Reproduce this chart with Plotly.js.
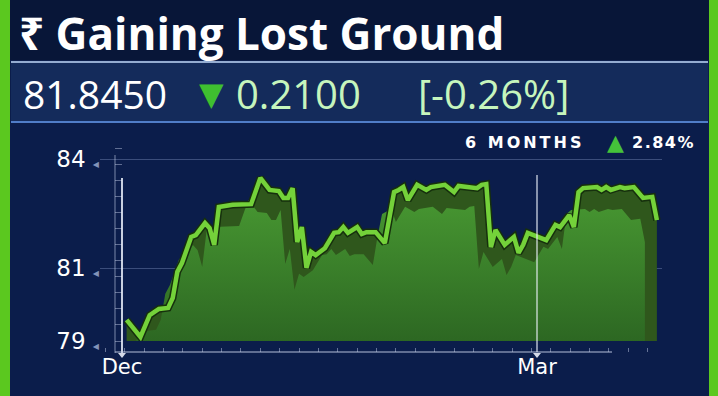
<!DOCTYPE html>
<html>
<head>
<meta charset="utf-8">
<script src="https://cdn.plot.ly/plotly-3.0.1.min.js"></script>
<style>
  html, body { margin: 0; padding: 0; background: #0b1d4b; }
  #chart { width: 718px; height: 396px; }
</style>
</head>
<body>
<div id="chart"></div>
<script>
// ---- data ----
const titleText = '₹ Gaining Lost Ground';
const lastPrice = '81.8450';
const changeAbs = '0.2100';
const changePct = '[-0.26%]';
const periodLabel = '6 MONTHS';
const periodChange = '2.84%';

const dates = [
  '2022-12-02','2022-12-05','2022-12-07','2022-12-09','2022-12-11','2022-12-12','2022-12-13','2022-12-14',
  '2022-12-16','2022-12-17','2022-12-19','2022-12-20','2022-12-21','2022-12-22','2022-12-25','2022-12-29',
  '2022-12-31','2023-01-02','2023-01-04','2023-01-05','2023-01-06','2023-01-07','2023-01-08','2023-01-09',
  '2023-01-10','2023-01-11','2023-01-12','2023-01-14','2023-01-16','2023-01-17','2023-01-18','2023-01-19',
  '2023-01-21','2023-01-22','2023-01-23','2023-01-25','2023-01-27','2023-01-28','2023-01-29','2023-01-30',
  '2023-01-31','2023-02-01','2023-02-03','2023-02-05','2023-02-06','2023-02-09','2023-02-11','2023-02-12',
  '2023-02-14','2023-02-16','2023-02-17','2023-02-18','2023-02-19','2023-02-20','2023-02-22','2023-02-24',
  '2023-02-25','2023-02-26','2023-02-27','2023-03-01','2023-03-03','2023-03-05','2023-03-06','2023-03-08',
  '2023-03-09','2023-03-10','2023-03-11','2023-03-14','2023-03-15','2023-03-16','2023-03-17','2023-03-19',
  '2023-03-20','2023-03-22','2023-03-23','2023-03-24','2023-03-26','2023-03-27'
];
const rate = [
  79.58,79.11,79.71,79.88,79.91,80.18,80.90,81.14,
  81.86,81.91,82.24,82.10,81.64,82.68,82.74,82.76,
  83.48,83.15,83.12,82.93,82.93,83.20,81.72,82.13,
  81.01,81.45,81.36,81.55,81.97,81.99,82.13,81.97,
  82.13,81.94,81.99,81.99,81.69,82.46,83.09,83.15,
  83.23,82.87,83.29,83.15,83.23,83.29,83.09,83.26,
  83.23,83.20,83.29,83.31,81.58,82.05,81.64,81.86,
  81.42,81.64,81.97,81.86,81.77,82.19,82.13,82.46,
  82.13,83.09,83.20,83.23,83.15,83.23,83.15,83.23,
  83.20,83.23,83.07,82.93,82.96,82.32
];
const yTickVals = [79, 81, 84];
const xTickVals = ['2022-12-01', '2023-03-01'];
const xTickText = ['Dec', 'Mar'];

// ---- geometry helpers (pixel -> paper fraction) ----
const L = 100, R = 662, T = 140, B = 360;
const px = x => (x - L) / (R - L);
const py = y => (B - y) / (B - T);

const xRange = ['2022-11-26 05:30', '2023-03-28 02:36'];
const xRangeFront = ['2022-11-28 20:00', '2023-03-30 17:06'];
const yRange = [79, 84.522];
const yRangeFront = [79.604, 85.126];

const FONT = 'Open Sans, Noto Sans, DejaVu Sans, sans-serif';
const WIDE = 'DejaVu Sans, Verdana, sans-serif';

const traces = [
  { // dark extrusion (back)
    x: dates, y: rate, xaxis: 'x', yaxis: 'y', type: 'scatter', mode: 'lines',
    line: { width: 0, color: '#2f5a1d' }, fill: 'tozeroy', fillcolor: '#2f571c', hoverinfo: 'skip'
  },
  { // front face
    x: dates, y: rate, xaxis: 'x2', yaxis: 'y2', type: 'scatter', mode: 'lines',
    line: { width: 0, color: '#45942f' }, fill: 'tozeroy',
    fillgradient: { type: 'vertical', start: 79.5, stop: 84, colorscale: [[0, '#2c6622'], [1, '#4a9c33']] },
    hoverinfo: 'skip'
  },
  { // outline
    x: dates, y: rate, xaxis: 'x3', yaxis: 'y3', type: 'scatter', mode: 'lines',
    line: { width: 7.5, color: '#16300d' }, hoverinfo: 'skip'
  },
  { // bright line
    x: dates, y: rate, xaxis: 'x3', yaxis: 'y3', type: 'scatter', mode: 'lines',
    line: { width: 4.5, color: '#74d23a' }
  }
];

const gridCol = 'rgba(150,170,215,0.35)';

const layout = {
  width: 718, height: 396,
  paper_bgcolor: '#0b1d4b', plot_bgcolor: 'rgba(0,0,0,0)',
  margin: { l: L, r: 718 - R, t: T, b: 396 - B, pad: 0 },
  showlegend: false,
  title: {
    text: titleText, x: 19 / 718, xanchor: 'left', xref: 'container',
    y: 1 - 35 / 396, yanchor: 'middle', yref: 'container',
    font: { family: FONT, size: 44, weight: 700, color: '#ffffff' }
  },
  xaxis: {
    type: 'date', range: xRange, anchor: 'free', position: py(352),
    showgrid: false, zeroline: false, showline: false,
    tickvals: xTickVals, ticktext: xTickText, ticks: '',
    tickfont: { family: WIDE, size: 21, color: '#ffffff' },
    minor: { ticks: 'inside', ticklen: 4, tickwidth: 1, tickcolor: 'rgba(190,200,225,0.5)', dtick: 4.2 * 86400000, showgrid: false }
  },
  yaxis: {
    domain: [py(341), 1], range: yRange,
    tickvals: yTickVals,
    ticktext: yTickVals.map(v => v + ' <span style="font-size:8px;color:#8393b8">◀</span>'),
    showgrid: true, gridcolor: gridCol, gridwidth: 1, zeroline: false, showline: false, ticks: '',
    tickfont: { family: WIDE, size: 23, color: '#ffffff' }
  },
  xaxis2: { type: 'date', overlaying: 'x', range: xRangeFront, visible: false, anchor: 'y2' },
  yaxis2: { overlaying: 'y', range: yRangeFront, visible: false, anchor: 'x2' },
  xaxis3: { type: 'date', overlaying: 'x', range: xRange, visible: false, anchor: 'y3' },
  yaxis3: {
    overlaying: 'y', range: yRange, anchor: 'free', position: px(122), side: 'left',
    showgrid: false, zeroline: false, showline: false, showticklabels: false,
    ticks: 'outside', ticklen: 7, tickwidth: 1, tickcolor: 'rgba(200,210,235,0.45)', tick0: 79, dtick: 0.44
  },
  shapes: [
    { type: 'rect', xref: 'paper', yref: 'paper', x0: px(0), x1: px(718), y0: py(60), y1: py(0), fillcolor: '#081638', line: { width: 0 }, layer: 'below' },
    { type: 'rect', xref: 'paper', yref: 'paper', x0: px(11), x1: px(708), y0: py(123), y1: py(61), fillcolor: '#142b5b', line: { width: 0 }, layer: 'below' },
    { type: 'line', xref: 'paper', yref: 'paper', x0: px(11), x1: px(708), y0: py(62), y1: py(62), line: { color: 'rgba(170,195,230,0.85)', width: 2 } },
    { type: 'line', xref: 'paper', yref: 'paper', x0: px(11), x1: px(708), y0: py(122), y1: py(122), line: { color: 'rgba(90,140,220,0.85)', width: 2 } },
    { type: 'rect', xref: 'paper', yref: 'paper', x0: px(0), x1: px(10), y0: py(396), y1: py(0), fillcolor: '#5bc81f', line: { width: 0 } },
    { type: 'rect', xref: 'paper', yref: 'paper', x0: px(709), x1: px(718), y0: py(396), y1: py(0), fillcolor: '#5bc81f', line: { width: 0 } },
    { type: 'line', xref: 'paper', yref: 'paper', x0: px(115), x1: px(115), y0: py(353), y1: py(155), line: { color: 'rgba(200,210,235,0.5)', width: 1.2 } },
    { type: 'line', xref: 'x', yref: 'paper', x0: xTickVals[0], x1: xTickVals[0], y0: py(353), y1: py(178), line: { color: 'rgba(235,240,250,0.85)', width: 2 } },
    { type: 'line', xref: 'paper', yref: 'paper', x0: px(115), x1: px(612), y0: py(352), y1: py(352), line: { color: 'rgba(200,210,235,0.6)', width: 1.5 } },
    { type: 'line', xref: 'x', yref: 'paper', x0: xTickVals[1], x1: xTickVals[1], y0: py(352), y1: py(175), line: { color: 'rgba(235,240,250,0.75)', width: 1.5 } },
    { type: 'path', xref: 'x', yref: 'paper', xsizemode: 'pixel', ysizemode: 'pixel', xanchor: xTickVals[0], yanchor: py(353),
      path: 'M -4 0 L 4 0 L 0 -5 Z', fillcolor: 'rgba(235,240,250,0.9)', line: { width: 0 } },
    { type: 'path', xref: 'x', yref: 'paper', xsizemode: 'pixel', ysizemode: 'pixel', xanchor: xTickVals[1], yanchor: py(353),
      path: 'M -4 0 L 4 0 L 0 -5 Z', fillcolor: 'rgba(235,240,250,0.9)', line: { width: 0 } }
  ],
  annotations: [
    { text: lastPrice, xref: 'paper', yref: 'paper', x: px(21), y: py(93), xanchor: 'left', yanchor: 'middle', showarrow: false,
      font: { family: FONT, size: 39, color: '#ffffff' } },
    { text: '▼', xref: 'paper', yref: 'paper', x: px(197), y: py(94), xanchor: 'left', yanchor: 'middle', showarrow: false,
      font: { family: WIDE, size: 32, color: '#3fbf30' } },
    { text: changeAbs, xref: 'paper', yref: 'paper', x: px(234), y: py(93), xanchor: 'left', yanchor: 'middle', showarrow: false,
      font: { family: FONT, size: 40, color: '#c6f5bd' } },
    { text: changePct, xref: 'paper', yref: 'paper', x: px(416), y: py(93), xanchor: 'left', yanchor: 'middle', showarrow: false,
      font: { family: FONT, size: 40, color: '#c6f5bd' } },
    { text: '<span style="letter-spacing:3px">' + periodLabel + '</span>', xref: 'paper', yref: 'paper', x: px(463), y: py(142), xanchor: 'left', yanchor: 'middle', showarrow: false,
      font: { family: WIDE, size: 16, weight: 600, color: '#ffffff' } },
    { text: '▲', xref: 'paper', yref: 'paper', x: px(605), y: py(142), xanchor: 'left', yanchor: 'middle', showarrow: false,
      font: { family: WIDE, size: 22, color: '#45c23a' } },
    { text: '<span style="letter-spacing:1.5px">' + periodChange + '</span>', xref: 'paper', yref: 'paper', x: px(630), y: py(142), xanchor: 'left', yanchor: 'middle', showarrow: false,
      font: { family: WIDE, size: 16, weight: 600, color: '#ffffff' } }
  ]
};

Plotly.newPlot('chart', traces, layout, { staticPlot: true, displayModeBar: false });
</script>
</body>
</html>
